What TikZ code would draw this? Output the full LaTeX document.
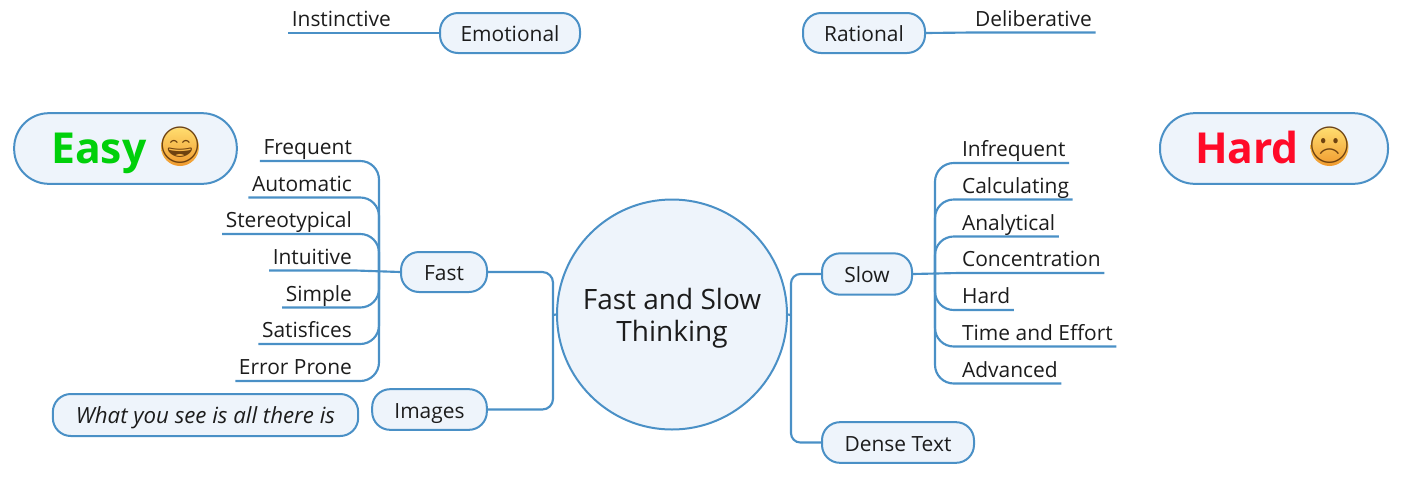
\documentclass[tikz,border=0pt]{standalone}
\usepackage{fontspec}
\usetikzlibrary{backgrounds}
\setmainfont{Open Sans}
\newfontfamily\emojifont{Noto Emoji}
\definecolor{linkblue}{HTML}{4A90C6}
\definecolor{boxfill}{HTML}{EEF4FB}
\definecolor{inkblack}{HTML}{1C1C1C}
\definecolor{easygreen}{HTML}{00D00A}
\definecolor{hardred}{HTML}{FF0A28}
\definecolor{facebrown}{HTML}{6E4210}
\definecolor{facetop}{HTML}{FFDC6E}
\definecolor{facebottom}{HTML}{F09A2E}
\newcommand{\faceglyph}[1]{\smash{\raisebox{-8pt}{\makebox[0pt]{#1}}}}
\tikzset{
  x=0.75pt,y=-0.75pt,
  link/.style={draw=linkblue,line width=1.6pt,rounded corners=14pt},
  mainlink/.style={link,rounded corners=8pt},
  sidelink/.style={link,rounded corners=7pt},
  straightlink/.style={link,rounded corners=0pt},
  pill/.style={draw=linkblue,line width=1.5pt,fill=boxfill,rounded corners=13.5pt,inner sep=0pt,text=inkblack,text height=13pt,text depth=0pt,font=\fontsize{15.7pt}{18pt}\selectfont},
  bigpill/.style={pill,rounded corners=26pt,text height=21.8pt,font=\fontsize{32pt}{36pt}\selectfont\bfseries},
  leaf/.style={inner xsep=2.5pt,inner ysep=4.6pt,text depth=0pt,text=inkblack,font=\fontsize{15.7pt}{18pt}\selectfont},
  leafl/.style={leaf,anchor=south east},
  leafr/.style={leaf,anchor=south west},
  hub/.style={circle,draw=linkblue,line width=1.5pt,fill=boxfill,inner sep=0pt,minimum size=172.5pt,align=center,text=inkblack,font=\fontsize{21pt}{24pt}\selectfont},
  face/.style={circle,inner sep=0pt,minimum size=28.5pt,top color=facetop,bottom color=facebottom,text=facebrown,font=\emojifont\fontsize{27pt}{30pt}\selectfont},
}
\begin{document}
\begin{tikzpicture}
\useasboundingbox (0,0) rectangle (1410,483);
\coordinate (ljunction) at (553,315);
\coordinate (rjunction) at (791,315);
\coordinate (ltrunk) at (379,272);
\coordinate (rtrunk) at (935,273);
% leaves, left
\node[leafl] (frequent) at (355.5,161) {Frequent};
\node[leafl] (automatic) at (355.5,197.5) {Automatic};
\node[leafl] (stereo) at (355.5,234) {Stereotypical};
\node[leafl] (intuitive) at (355.5,270.5) {Intuitive};
\node[leafl] (simple) at (355.5,307.5) {Simple};
\node[leafl] (satisfices) at (355.5,344) {Satisfices};
\node[leafl] (errorprone) at (355.5,381) {Error Prone};
% leaves, right
\node[leafr] (infrequent) at (958.5,163) {Infrequent};
\node[leafr] (calculating) at (958.5,199.5) {Calculating};
\node[leafr] (analytical) at (958.5,236.5) {Analytical};
\node[leafr] (concentration) at (958.5,273) {Concentration};
\node[leafr] (hardleaf) at (958.5,310) {Hard};
\node[leafr] (timeeffort) at (958.5,346.5) {Time and Effort};
\node[leafr] (advanced) at (958.5,383.5) {Advanced};
% top leaves
\node[leafl] (instinctive) at (394.5,33) {Instinctive};
\node[leafr] (deliberative) at (971.5,32.5) {Deliberative};
% boxes
\node[hub] (hub) at (672,314.5) {\rule{0pt}{21pt}Fast and Slow\\Thinking};
\node[pill,minimum width=64.5pt,minimum height=30pt] (fast) at (444,272) {Fast};
\node[pill,minimum width=67.5pt,minimum height=31pt] (slow) at (867,274) {Slow};
\node[pill,minimum width=86pt,minimum height=30.5pt] (images) at (429.5,409.5) {Images};
\node[pill,minimum width=114pt,minimum height=30.5pt] (dense) at (898,442.5) {Dense Text};
\node[pill,minimum width=229pt,minimum height=31.5pt,font=\fontsize{16.7pt}{18pt}\selectfont\itshape] (wysee) at (205.5,415) {What you see is all there is};
\node[pill,minimum width=105pt,minimum height=30pt] (emotional) at (510,33) {Emotional};
\node[pill,minimum width=91.5pt,minimum height=30pt] (rational) at (864,33) {Rational};
\node[bigpill,minimum width=167pt,minimum height=53pt,text=easygreen] (easy) at (125.5,148.5) {Easy\kern40pt};
\node[bigpill,minimum width=171pt,minimum height=53pt,text=hardred] (hard) at (1274,148.5) {Hard\kern40.5pt};
\node[face] (easyface) at (180,147) {\faceglyph{😄}};
\node[face] (hardface) at (1329.5,147) {\faceglyph{☹}};
% connectors behind the boxes
\begin{scope}[on background layer]
\draw[mainlink] (fast.east) -- (fast.east -| ljunction) -- (ljunction);
\draw[mainlink] (images.east) -- (images.east -| ljunction) -- (ljunction);
\draw[link] (ljunction) -- (hub.west);
\draw[sidelink] (slow.west) -- (slow.west -| rjunction) -- (rjunction);
\draw[sidelink] (dense.west) -- (dense.west -| rjunction) -- (rjunction);
\draw[link] (rjunction) -- (hub.east);
% left fan
\draw[link] (frequent.south west) -- (frequent.south west -| ltrunk) -- (ltrunk);
\draw[link] (automatic.south west) -- (automatic.south west -| ltrunk) -- (ltrunk);
\draw[link] (stereo.south west) -- (stereo.south west -| ltrunk) -- (ltrunk);
\draw[link] (simple.south west) -- (simple.south west -| ltrunk) -- (ltrunk);
\draw[link] (satisfices.south west) -- (satisfices.south west -| ltrunk) -- (ltrunk);
\draw[link] (errorprone.south west) -- (errorprone.south west -| ltrunk) -- (ltrunk);
\draw[straightlink] (intuitive.south west) -- (intuitive.south east) -- (fast.west);
% right fan
\draw[link] (infrequent.south east) -- (infrequent.south east -| rtrunk) -- (rtrunk);
\draw[link] (calculating.south east) -- (calculating.south east -| rtrunk) -- (rtrunk);
\draw[link] (analytical.south east) -- (analytical.south east -| rtrunk) -- (rtrunk);
\draw[link] (hardleaf.south east) -- (hardleaf.south east -| rtrunk) -- (rtrunk);
\draw[link] (timeeffort.south east) -- (timeeffort.south east -| rtrunk) -- (rtrunk);
\draw[link] (advanced.south east) -- (advanced.south east -| rtrunk) -- (rtrunk);
\draw[straightlink] (concentration.south east) -- (concentration.south west) -- (slow.east);
% top links
\draw[straightlink] (instinctive.south west) -- (instinctive.south east) -- (emotional.west);
\draw[straightlink] (deliberative.south east) -- (deliberative.south west) -- (rational.east);
\end{scope}
\end{tikzpicture}
\end{document}
